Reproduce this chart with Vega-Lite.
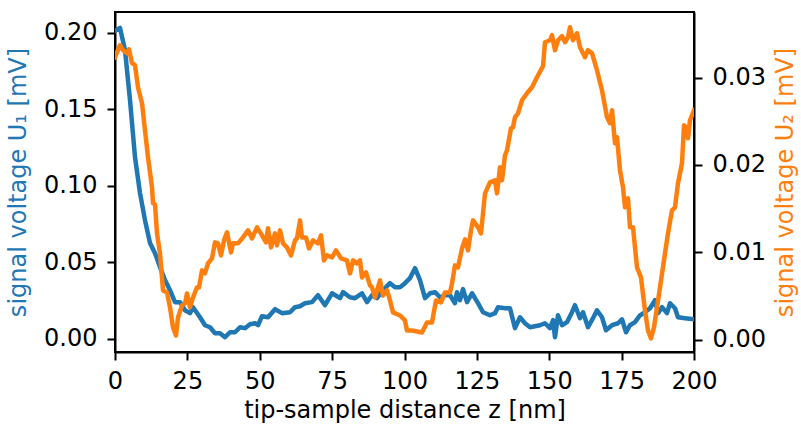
{
  "$schema": "https://vega.github.io/schema/vega-lite/v6.json",
  "width": 579,
  "height": 340,
  "autosize": {"type": "none"},
  "padding": {"left": 115, "top": 12, "right": 107, "bottom": 76},
  "background": "white",
  "config": {
    "font": "DejaVu Sans",
    "view": {"stroke": "black", "strokeWidth": 2},
    "axis": {
      "grid": false,
      "domainColor": "black",
      "domainWidth": 2,
      "tickColor": "black",
      "tickWidth": 2,
      "tickSize": 8,
      "labelFont": "DejaVu Sans",
      "labelFontSize": 24,
      "labelColor": "black",
      "labelFlush": false,
      "titleFont": "DejaVu Sans",
      "titleFontSize": 24,
      "titleFontWeight": "normal",
      "titleColor": "black"
    }
  },
  "datasets": {
    "u1": [
      {"z": 0, "U1": 0.2011}, {"z": 1.73, "U1": 0.2031}, {"z": 3.45, "U1": 0.1887}, {"z": 5.18, "U1": 0.1559},
      {"z": 6.91, "U1": 0.1186}, {"z": 8.64, "U1": 0.0951}, {"z": 10.36, "U1": 0.0774}, {"z": 12.09, "U1": 0.0624},
      {"z": 13.82, "U1": 0.0558}, {"z": 15.54, "U1": 0.0467}, {"z": 17.27, "U1": 0.0382}, {"z": 19.0, "U1": 0.0316},
      {"z": 20.73, "U1": 0.0238}, {"z": 22.45, "U1": 0.0238}, {"z": 24.18, "U1": 0.0185}, {"z": 25.91, "U1": 0.0166},
      {"z": 26.94, "U1": 0.0205}, {"z": 29.36, "U1": 0.0139}, {"z": 31.09, "U1": 0.0087}, {"z": 32.82, "U1": 0.0074},
      {"z": 34.54, "U1": 0.0035}, {"z": 36.27, "U1": 0.0035}, {"z": 38.0, "U1": 0.0009}, {"z": 39.72, "U1": 0.0041},
      {"z": 41.45, "U1": 0.0041}, {"z": 43.18, "U1": 0.0074}, {"z": 44.91, "U1": 0.0068}, {"z": 46.63, "U1": 0.0094},
      {"z": 48.36, "U1": 0.0100}, {"z": 49.40, "U1": 0.0087}, {"z": 50.78, "U1": 0.0146}, {"z": 52.85, "U1": 0.0139},
      {"z": 55.27, "U1": 0.0192}, {"z": 57.69, "U1": 0.0166}, {"z": 60.45, "U1": 0.0172}, {"z": 62.18, "U1": 0.0205},
      {"z": 63.90, "U1": 0.0211}, {"z": 65.63, "U1": 0.0231}, {"z": 68.05, "U1": 0.0238}, {"z": 70.12, "U1": 0.0283},
      {"z": 72.54, "U1": 0.0218}, {"z": 74.96, "U1": 0.0296}, {"z": 77.72, "U1": 0.0264}, {"z": 78.76, "U1": 0.0303},
      {"z": 81.17, "U1": 0.0270}, {"z": 82.90, "U1": 0.0264}, {"z": 85.32, "U1": 0.0296}, {"z": 87.05, "U1": 0.0238},
      {"z": 88.77, "U1": 0.0283}, {"z": 90.50, "U1": 0.0264}, {"z": 92.57, "U1": 0.0316}, {"z": 94.99, "U1": 0.0362},
      {"z": 96.72, "U1": 0.0336}, {"z": 98.45, "U1": 0.0336}, {"z": 100.17, "U1": 0.0362}, {"z": 101.9, "U1": 0.0395},
      {"z": 103.63, "U1": 0.0460}, {"z": 105.35, "U1": 0.0382}, {"z": 107.08, "U1": 0.0264}, {"z": 108.81, "U1": 0.0296},
      {"z": 110.54, "U1": 0.0303}, {"z": 112.26, "U1": 0.0270}, {"z": 113.99, "U1": 0.0283}, {"z": 115.72, "U1": 0.0283},
      {"z": 117.44, "U1": 0.0231}, {"z": 118.13, "U1": 0.0303}, {"z": 119.17, "U1": 0.0251}, {"z": 120.21, "U1": 0.0323},
      {"z": 121.59, "U1": 0.0238}, {"z": 123.32, "U1": 0.0296}, {"z": 125.39, "U1": 0.0231}, {"z": 127.12, "U1": 0.0172},
      {"z": 129.53, "U1": 0.0152}, {"z": 131.26, "U1": 0.0166}, {"z": 132.30, "U1": 0.0205}, {"z": 134.72, "U1": 0.0198},
      {"z": 136.44, "U1": 0.0198}, {"z": 138.17, "U1": 0.0068}, {"z": 139.90, "U1": 0.0139}, {"z": 141.62, "U1": 0.0100},
      {"z": 143.35, "U1": 0.0074}, {"z": 146.80, "U1": 0.0087}, {"z": 148.53, "U1": 0.0100}, {"z": 150.26, "U1": 0.0068},
      {"z": 151.30, "U1": 0.0120}, {"z": 151.99, "U1": 0.0009}, {"z": 153.02, "U1": 0.0152}, {"z": 154.40, "U1": 0.0087},
      {"z": 156.13, "U1": 0.0107}, {"z": 157.86, "U1": 0.0172}, {"z": 158.89, "U1": 0.0218}, {"z": 160.62, "U1": 0.0133},
      {"z": 161.66, "U1": 0.0172}, {"z": 163.39, "U1": 0.0074}, {"z": 165.11, "U1": 0.0133}, {"z": 166.49, "U1": 0.0185},
      {"z": 168.22, "U1": 0.0139}, {"z": 169.60, "U1": 0.0054}, {"z": 171.68, "U1": 0.0087}, {"z": 173.75, "U1": 0.0100},
      {"z": 175.13, "U1": 0.0126}, {"z": 176.51, "U1": 0.0041}, {"z": 177.89, "U1": 0.0087}, {"z": 179.62, "U1": 0.0107},
      {"z": 181.35, "U1": 0.0152}, {"z": 183.07, "U1": 0.0172}, {"z": 184.80, "U1": 0.0198}, {"z": 186.53, "U1": 0.0251},
      {"z": 187.56, "U1": 0.0166}, {"z": 188.95, "U1": 0.0205}, {"z": 190.67, "U1": 0.0166}, {"z": 191.71, "U1": 0.0231},
      {"z": 193.44, "U1": 0.0198}, {"z": 194.47, "U1": 0.0139}, {"z": 196.89, "U1": 0.0133}, {"z": 200, "U1": 0.0126}
    ],
    "u2": [
      {"z": 0, "U2": 0.03233}, {"z": 1.73, "U2": 0.03370}, {"z": 2.76, "U2": 0.03313}, {"z": 4.15, "U2": 0.03278},
      {"z": 4.84, "U2": 0.03324}, {"z": 5.87, "U2": 0.03164}, {"z": 6.91, "U2": 0.03141}, {"z": 7.94, "U2": 0.02889},
      {"z": 9.33, "U2": 0.02706}, {"z": 10.36, "U2": 0.02397}, {"z": 11.40, "U2": 0.02088}, {"z": 12.78, "U2": 0.01744},
      {"z": 13.13, "U2": 0.01561}, {"z": 13.82, "U2": 0.01549}, {"z": 14.51, "U2": 0.01217}, {"z": 15.54, "U2": 0.00988},
      {"z": 16.58, "U2": 0.00565}, {"z": 17.96, "U2": 0.00542}, {"z": 19.00, "U2": 0.00370}, {"z": 20.03, "U2": 0.00141},
      {"z": 21.07, "U2": 0.00049}, {"z": 21.76, "U2": 0.00255}, {"z": 23.14, "U2": 0.00393}, {"z": 24.18, "U2": 0.00416},
      {"z": 24.87, "U2": 0.00530}, {"z": 25.91, "U2": 0.00370}, {"z": 26.94, "U2": 0.00484}, {"z": 28.32, "U2": 0.00599},
      {"z": 29.02, "U2": 0.00599}, {"z": 30.05, "U2": 0.00794}, {"z": 31.09, "U2": 0.00759}, {"z": 32.12, "U2": 0.00874},
      {"z": 33.51, "U2": 0.00931}, {"z": 34.54, "U2": 0.01114}, {"z": 35.58, "U2": 0.01103}, {"z": 36.61, "U2": 0.00965},
      {"z": 37.65, "U2": 0.01137}, {"z": 38.69, "U2": 0.01229}, {"z": 40.07, "U2": 0.01000}, {"z": 40.76, "U2": 0.01103},
      {"z": 42.49, "U2": 0.01103}, {"z": 44.21, "U2": 0.01171}, {"z": 45.94, "U2": 0.01252}, {"z": 47.32, "U2": 0.01160},
      {"z": 49.05, "U2": 0.01286}, {"z": 50.78, "U2": 0.01194}, {"z": 52.16, "U2": 0.01114}, {"z": 52.85, "U2": 0.01275},
      {"z": 53.89, "U2": 0.01057}, {"z": 55.27, "U2": 0.01217}, {"z": 55.96, "U2": 0.01080}, {"z": 56.99, "U2": 0.01252},
      {"z": 58.03, "U2": 0.01103}, {"z": 59.41, "U2": 0.01057}, {"z": 60.79, "U2": 0.00965}, {"z": 62.18, "U2": 0.01137},
      {"z": 62.87, "U2": 0.01160}, {"z": 63.90, "U2": 0.01366}, {"z": 64.59, "U2": 0.01171}, {"z": 65.98, "U2": 0.01171},
      {"z": 67.01, "U2": 0.01045}, {"z": 68.39, "U2": 0.01137}, {"z": 70.12, "U2": 0.01103}, {"z": 71.16, "U2": 0.01194},
      {"z": 72.19, "U2": 0.00908}, {"z": 73.23, "U2": 0.00965}, {"z": 74.96, "U2": 0.00942}, {"z": 76.34, "U2": 0.01023},
      {"z": 78.07, "U2": 0.00931}, {"z": 80.14, "U2": 0.00908}, {"z": 81.17, "U2": 0.00759}, {"z": 82.21, "U2": 0.00908},
      {"z": 83.59, "U2": 0.00874}, {"z": 84.63, "U2": 0.00908}, {"z": 85.32, "U2": 0.00713}, {"z": 86.70, "U2": 0.00771},
      {"z": 88.08, "U2": 0.00622}, {"z": 88.77, "U2": 0.00599}, {"z": 89.81, "U2": 0.00484}, {"z": 91.54, "U2": 0.00679},
      {"z": 92.57, "U2": 0.00507}, {"z": 93.96, "U2": 0.00565}, {"z": 94.99, "U2": 0.00450}, {"z": 96.03, "U2": 0.00313},
      {"z": 98.45, "U2": 0.00278}, {"z": 100.17, "U2": 0.00221}, {"z": 100.86, "U2": 0.00106}, {"z": 102.59, "U2": 0.00106},
      {"z": 104.32, "U2": 0.00095}, {"z": 106.04, "U2": 0.00084}, {"z": 107.77, "U2": 0.00198}, {"z": 109.50, "U2": 0.00198},
      {"z": 110.88, "U2": 0.00450}, {"z": 112.61, "U2": 0.00427}, {"z": 113.99, "U2": 0.00542}, {"z": 115.72, "U2": 0.00542},
      {"z": 116.41, "U2": 0.00645}, {"z": 117.44, "U2": 0.00851}, {"z": 118.48, "U2": 0.00828}, {"z": 119.86, "U2": 0.01045},
      {"z": 120.90, "U2": 0.01149}, {"z": 121.93, "U2": 0.01023}, {"z": 122.97, "U2": 0.01252}, {"z": 123.66, "U2": 0.01366},
      {"z": 125.39, "U2": 0.01286}, {"z": 126.42, "U2": 0.01217}, {"z": 127.81, "U2": 0.01675}, {"z": 129.53, "U2": 0.01801},
      {"z": 131.26, "U2": 0.01824}, {"z": 131.95, "U2": 0.01675}, {"z": 132.99, "U2": 0.01973}, {"z": 133.68, "U2": 0.01824},
      {"z": 134.72, "U2": 0.02110}, {"z": 135.41, "U2": 0.02168}, {"z": 136.79, "U2": 0.02420}, {"z": 137.48, "U2": 0.02431},
      {"z": 138.17, "U2": 0.02546}, {"z": 139.21, "U2": 0.02591}, {"z": 140.59, "U2": 0.02740}, {"z": 142.31, "U2": 0.02820},
      {"z": 144.04, "U2": 0.02889}, {"z": 145.77, "U2": 0.03004}, {"z": 147.84, "U2": 0.03130}, {"z": 148.53, "U2": 0.03404},
      {"z": 150.26, "U2": 0.03427}, {"z": 150.95, "U2": 0.03485}, {"z": 151.99, "U2": 0.03313}, {"z": 153.02, "U2": 0.03427},
      {"z": 154.40, "U2": 0.03473}, {"z": 155.44, "U2": 0.03404}, {"z": 156.48, "U2": 0.03462}, {"z": 157.17, "U2": 0.03576},
      {"z": 158.20, "U2": 0.03427}, {"z": 159.59, "U2": 0.03507}, {"z": 160.62, "U2": 0.03347}, {"z": 162.35, "U2": 0.03233},
      {"z": 163.39, "U2": 0.03313}, {"z": 164.77, "U2": 0.03278}, {"z": 166.49, "U2": 0.03084}, {"z": 168.22, "U2": 0.02855},
      {"z": 169.95, "U2": 0.02546}, {"z": 170.98, "U2": 0.02477}, {"z": 171.68, "U2": 0.02626}, {"z": 172.71, "U2": 0.02248},
      {"z": 173.40, "U2": 0.02317}, {"z": 174.44, "U2": 0.01939}, {"z": 175.47, "U2": 0.01744}, {"z": 176.17, "U2": 0.01515},
      {"z": 177.20, "U2": 0.01618}, {"z": 177.89, "U2": 0.01286}, {"z": 178.93, "U2": 0.01286}, {"z": 180.31, "U2": 0.00828},
      {"z": 181.69, "U2": 0.00713}, {"z": 183.07, "U2": 0.00336}, {"z": 184.11, "U2": 0.00106}, {"z": 185.15, "U2": 0.00015},
      {"z": 186.18, "U2": 0.00141}, {"z": 187.22, "U2": 0.00370}, {"z": 188.26, "U2": 0.00599}, {"z": 189.98, "U2": 0.00988},
      {"z": 191.02, "U2": 0.01217}, {"z": 192.40, "U2": 0.01481}, {"z": 193.44, "U2": 0.01515}, {"z": 194.47, "U2": 0.01790},
      {"z": 195.85, "U2": 0.02019}, {"z": 196.55, "U2": 0.02454}, {"z": 197.24, "U2": 0.02431}, {"z": 197.93, "U2": 0.02305},
      {"z": 198.62, "U2": 0.02511}, {"z": 200, "U2": 0.02626}
    ]
  },
  "layer": [
    {
      "data": {"name": "u1"},
      "mark": {"type": "line", "color": "#1f77b4", "strokeWidth": 4.5, "strokeJoin": "round", "strokeCap": "square", "clip": true},
      "encoding": {
        "x": {
          "field": "z", "type": "quantitative",
          "scale": {"domain": [0, 200], "nice": false, "zero": false},
          "axis": {"values": [0, 25, 50, 75, 100, 125, 150, 175, 200], "title": "tip-sample distance z [nm]", "labelPadding": 9, "titlePadding": 5}
        },
        "y": {
          "field": "U1", "type": "quantitative",
          "scale": {"domain": [-0.0088, 0.2135], "nice": false, "zero": false},
          "axis": {"orient": "left", "values": [0, 0.05, 0.1, 0.15, 0.2], "format": ".2f", "title": "signal voltage U₁ [mV]", "titleColor": "#1f77b4", "labelPadding": 10, "titlePadding": 13}
        }
      }
    },
    {
      "data": {"name": "u2"},
      "mark": {"type": "line", "color": "#ff7f0e", "strokeWidth": 4.5, "strokeJoin": "round", "strokeCap": "square", "clip": true},
      "encoding": {
        "x": {"field": "z", "type": "quantitative"},
        "y": {
          "field": "U2", "type": "quantitative",
          "scale": {"domain": [-0.0014, 0.0375], "nice": false, "zero": false},
          "axis": {"orient": "right", "values": [0, 0.01, 0.02, 0.03], "format": ".2f", "title": "signal voltage U₂ [mV]", "titleColor": "#ff7f0e", "titleAngle": -90, "titleBaseline": "top", "labelPadding": 10, "titlePadding": 8}
        }
      }
    }
  ],
  "resolve": {"scale": {"y": "independent"}}
}
